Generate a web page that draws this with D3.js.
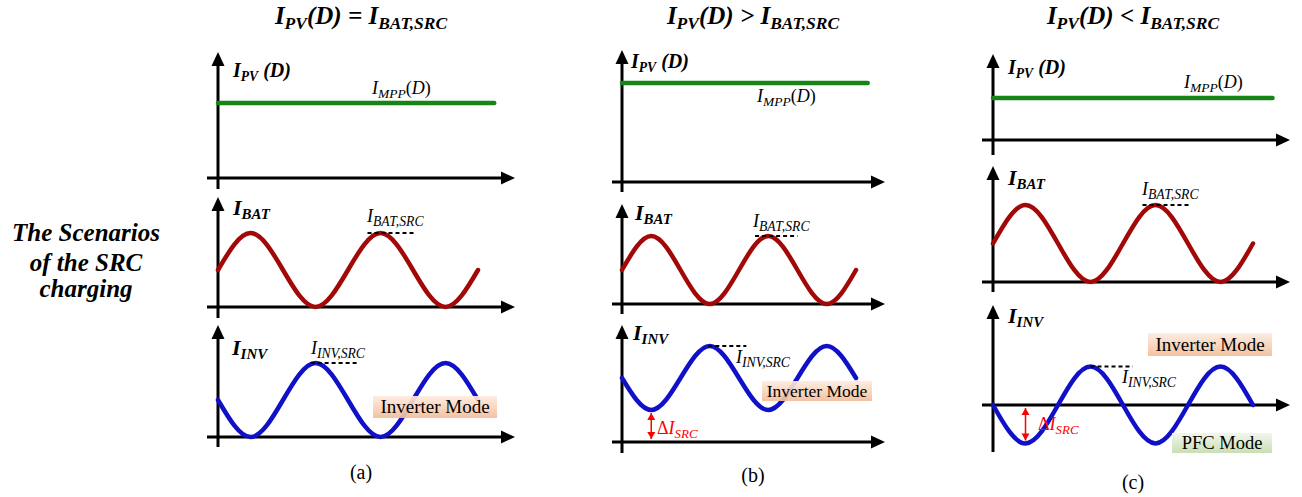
<!DOCTYPE html>
<html>
<head>
<meta charset="utf-8">
<script src="https://cdn.jsdelivr.net/npm/d3@7"></script>
<style>
body { margin: 0; background: #fff; }
</style>
</head>
<body>
<script>
// values (in units of the ripple amplitude)
var panelIds = ["(a)", "(b)", "(c)"];
var titleRelations = [" = ", " >  ", " <  "];
var quarterSteps = [0, 1, 2, 3, 4, 5, 6, 7, 8]; // quarter periods, two full periods
var ipvLevel = [2, 3, 1.2]; // I_PV(D) = I_MPP(D)
var ipvEnd = [8.5, 8.4, 8.6]; // how far the MPP line runs
var ibatWave = [1, 2, 1, 0, 1, 2, 1, 0, 1];
var iinvWaves = [
	[1, 0, 1, 2, 1, 0, 1, 2, 1],
	[2, 1, 2, 3, 2, 1, 2, 3, 2],
	[0, -1, 0, 1, 0, -1, 0, 1, 0]];
var ibatSrc = [2, 2, 2];
var iinvSrc = [2, 3, 1];
var batDash = [[4.6, 6.1], [4.55, 6.0], [4.6, 6.1]];
var invDash = [[2.85, 4.3], [2.95, 4.25], [3.0, 4.3]];
var deltaSrc = [null, [1, 0, 1], [1, 0, -1]]; // [t, from, to]

// where each panel sits on the page
var layout = [
	{x0: 218, period: 130, xL: 207, xR: 515, cx: 361,
	 top: {y0: 178, tip: 52, unit: 37.5, yB: 189},
	 mid: {y0: 307, tip: 197, unit: 37, yB: 318},
	 bot: {y0: 437, tip: 325, unit: 37, yB: 447},
	 lbl: {pv: [233, 77], mpp: [372, 94], bat: [233, 215], batSrc: [367, 222], inv: [232, 355], invSrc: [311, 354], cap: 479},
	 modes: [{x: 373, y: 396, w: 124, h: 22, txt: "Inverter Mode", kind: "inv", size: 19}]},
	{x0: 622, period: 117, xL: 612, xR: 885, cx: 753,
	 top: {y0: 182, tip: 50, unit: 33, yB: 192},
	 mid: {y0: 304, tip: 204, unit: 34, yB: 314},
	 bot: {y0: 442, tip: 325, unit: 32, yB: 453},
	 lbl: {pv: [631, 68], mpp: [757, 102], bat: [635, 220], batSrc: [753, 227], inv: [633, 340], invSrc: [736, 363], delta: [657, 434], cap: 482},
	 modes: [{x: 762, y: 381, w: 110, h: 20, txt: "Inverter Mode", kind: "inv", size: 17.5}]},
	{x0: 993, period: 130, xL: 982, xR: 1290, cx: 1133,
	 top: {y0: 140, tip: 54, unit: 35, yB: 155},
	 mid: {y0: 282, tip: 166, unit: 38.5, yB: 292},
	 bot: {y0: 405, tip: 305, unit: 38.5, yB: 452},
	 lbl: {pv: [1008, 74], mpp: [1184, 88], bat: [1008, 185], batSrc: [1142, 195], inv: [1008, 323], invSrc: [1122, 383], delta: [1038, 430], cap: 489},
	 modes: [{x: 1148, y: 333, w: 124, h: 23, txt: "Inverter Mode", kind: "inv", size: 19},
	         {x: 1172, y: 433, w: 100, h: 20, txt: "PFC Mode", kind: "pfc", size: 18.5}]}];

var serif = "'Liberation Serif', 'Times New Roman', serif";
var green = "#168516", darkRed = "#a30808", blue = "#1010c8";

var svg = d3.select("body").append("svg")
	.attr("width", 1302)
	.attr("height", 497);

var defs = svg.append("defs");
var gInv = defs.append("linearGradient").attr("id", "gInv").attr("x1", 0).attr("y1", 0).attr("x2", 0).attr("y2", 1);
gInv.append("stop").attr("offset", "0%").attr("stop-color", "#fdebdf");
gInv.append("stop").attr("offset", "100%").attr("stop-color", "#f3bd98");
var gPfc = defs.append("linearGradient").attr("id", "gPfc").attr("x1", 0).attr("y1", 0).attr("x2", 0).attr("y2", 1);
gPfc.append("stop").attr("offset", "0%").attr("stop-color", "#f1f6ec");
gPfc.append("stop").attr("offset", "100%").attr("stop-color", "#c4dcae");

// text with subscripts: parts = [text, isSub, fontStyle]
function richText(x, y, parts, size, opt) {
	opt = opt || {};
	var subRatio = opt.sub || 0.72;
	var t = svg.append("text")
		.attr("x", x)
		.attr("y", y)
		.attr("font-family", serif)
		.attr("font-size", size)
		.attr("font-weight", opt.bold ? "bold" : "normal")
		.attr("font-style", opt.italic ? "italic" : "normal")
		.attr("text-anchor", opt.anchor || "start")
		.attr("fill", opt.color || "#000");
	var down = 0;
	parts.forEach(function (p) {
		var shift = p[1] ? Math.round(size * 0.2) : 0;
		var ts = t.append("tspan")
			.text(p[0])
			.attr("font-size", p[1] ? size * subRatio : size)
			.attr("dy", shift - down);
		if (p[2]) ts.attr("font-style", p[2]);
		down = shift;
	});
	return t;
}

function arrowAxes(lay, p) {
	var head = 14, half = 6.5;
	svg.append("line") //horizontal axis
		.attr("x1", lay.xL).attr("y1", p.y0)
		.attr("x2", lay.xR - head + 2).attr("y2", p.y0)
		.attr("stroke", "#000").attr("stroke-width", 3);
	svg.append("path")
		.attr("d", "M" + lay.xR + "," + p.y0 + "L" + (lay.xR - head) + "," + (p.y0 - half) + "L" + (lay.xR - head) + "," + (p.y0 + half) + "Z")
		.attr("fill", "#000");
	svg.append("line") //vertical axis
		.attr("x1", lay.x0).attr("y1", p.yB)
		.attr("x2", lay.x0).attr("y2", p.tip + head - 2)
		.attr("stroke", "#000").attr("stroke-width", 3);
	svg.append("path")
		.attr("d", "M" + lay.x0 + "," + p.tip + "L" + (lay.x0 - half) + "," + (p.tip + head) + "L" + (lay.x0 + half) + "," + (p.tip + head) + "Z")
		.attr("fill", "#000");
}

function yScale(p) {
	return d3.scaleLinear().domain([0, 1]).range([p.y0, p.y0 - p.unit]);
}

layout.forEach(function (lay, i) {
	var x = d3.scaleLinear().domain([0, 8]).range([lay.x0, lay.x0 + 2 * lay.period]);
	var yTop = yScale(lay.top), yMid = yScale(lay.mid), yBot = yScale(lay.bot);

	// title
	richText(lay.cx, 24, [["I"], ["PV", true], ["(D)"], [titleRelations[i]], ["I"], ["BAT,SRC", true]], 25,
		{bold: true, italic: true, anchor: "middle", sub: 0.7});

	// I_PV
	arrowAxes(lay, lay.top);
	svg.append("path")
		.attr("d", d3.line().x(function (d) { return x(d[0]); }).y(function (d) { return yTop(d[1]); })(
			[[0, ipvLevel[i]], [ipvEnd[i], ipvLevel[i]]]))
		.attr("stroke", green).attr("stroke-width", 4.5).attr("stroke-linecap", "round").attr("fill", "none");
	richText(lay.lbl.pv[0], lay.lbl.pv[1], [["I"], ["PV", true], [" (D)"]], 20, {bold: true, italic: true, sub: 0.68});
	richText(lay.lbl.mpp[0], lay.lbl.mpp[1], [["I"], ["MPP", true], ["(", false, "normal"], ["D"], [")", false, "normal"]], 18, {italic: true, sub: 0.75});

	// I_BAT
	arrowAxes(lay, lay.mid);
	var batLine = d3.line().curve(d3.curveNatural)
		.x(function (d) { return x(d[0]); })
		.y(function (d) { return yMid(d[1]); });
	svg.append("path")
		.attr("d", batLine(quarterSteps.map(function (t, k) { return [t, ibatWave[k]]; })))
		.attr("stroke", darkRed).attr("stroke-width", 4.5).attr("stroke-linecap", "round").attr("fill", "none");
	svg.append("line")
		.attr("x1", x(batDash[i][0])).attr("x2", x(batDash[i][1]))
		.attr("y1", yMid(ibatSrc[i])).attr("y2", yMid(ibatSrc[i]))
		.attr("stroke", "#000").attr("stroke-width", 2).attr("stroke-dasharray", "4,3");
	richText(lay.lbl.bat[0], lay.lbl.bat[1], [["I"], ["BAT", true]], 22, {bold: true, italic: true, sub: 0.68});
	richText(lay.lbl.batSrc[0], lay.lbl.batSrc[1], [["I"], ["BAT,SRC", true]], 18, {italic: true, sub: 0.76});

	// I_INV
	arrowAxes(lay, lay.bot);
	var invLine = d3.line().curve(d3.curveNatural)
		.x(function (d) { return x(d[0]); })
		.y(function (d) { return yBot(d[1]); });
	svg.append("path")
		.attr("d", invLine(quarterSteps.map(function (t, k) { return [t, iinvWaves[i][k]]; })))
		.attr("stroke", blue).attr("stroke-width", 4.5).attr("stroke-linecap", "round").attr("fill", "none");
	svg.append("line")
		.attr("x1", x(invDash[i][0])).attr("x2", x(invDash[i][1]))
		.attr("y1", yBot(iinvSrc[i])).attr("y2", yBot(iinvSrc[i]))
		.attr("stroke", "#000").attr("stroke-width", 2).attr("stroke-dasharray", "4,3");
	richText(lay.lbl.inv[0], lay.lbl.inv[1], [["I"], ["INV", true]], 22, {bold: true, italic: true, sub: 0.68});
	richText(lay.lbl.invSrc[0], lay.lbl.invSrc[1], [["I"], ["INV,SRC", true]], 18, {italic: true, sub: 0.76});

	// delta I_SRC (red double arrow)
	if (deltaSrc[i]) {
		var d = deltaSrc[i];
		var xa = x(d[0]), ya = yBot(d[1]), yb = yBot(d[2]);
		var dir = yb < ya ? -1 : 1;
		var ya2 = ya + dir * 3, yb2 = yb - dir * 3;
		svg.append("line")
			.attr("x1", xa).attr("x2", xa).attr("y1", ya2).attr("y2", yb2)
			.attr("stroke", "#f00").attr("stroke-width", 1.5);
		[[ya2, -dir], [yb2, dir]].forEach(function (h) {
			svg.append("path")
				.attr("d", "M" + xa + "," + h[0] + "L" + (xa - 4) + "," + (h[0] - h[1] * 7) + "L" + (xa + 4) + "," + (h[0] - h[1] * 7) + "Z")
				.attr("fill", "#f00");
		});
		richText(lay.lbl.delta[0], lay.lbl.delta[1], [["Δ", false, "normal"], ["I"], ["SRC", true]], 18, {italic: true, color: "#f00"});
	}

	// mode boxes
	lay.modes.forEach(function (m) {
		svg.append("rect")
			.attr("x", m.x).attr("y", m.y).attr("width", m.w).attr("height", m.h)
			.attr("fill", m.kind === "inv" ? "url(#gInv)" : "url(#gPfc)")
			.attr("opacity", 0.92);
		svg.append("text")
			.attr("x", m.x + m.w / 2).attr("y", m.y + m.h / 2 + m.size * 0.33)
			.attr("text-anchor", "middle")
			.attr("font-family", serif)
			.attr("font-size", m.size)
			.text(m.txt);
	});

	// caption
	svg.append("text")
		.attr("x", lay.cx).attr("y", lay.lbl.cap)
		.attr("text-anchor", "middle")
		.attr("font-family", serif)
		.attr("font-size", 20)
		.text(panelIds[i]);
});

// left side label
var sideLines = ["The Scenarios", "of the SRC", "charging"];
svg.selectAll("text.side")
	.data(sideLines)
	.enter()
	.append("text")
	.attr("class", "side")
	.attr("x", 86)
	.attr("y", function (d, i) { return [241, 271, 297][i]; })
	.attr("text-anchor", "middle")
	.attr("font-family", serif)
	.attr("font-size", 25)
	.attr("font-weight", "bold")
	.attr("font-style", "italic")
	.text(function (d) { return d; });
</script>
</body>
</html>
